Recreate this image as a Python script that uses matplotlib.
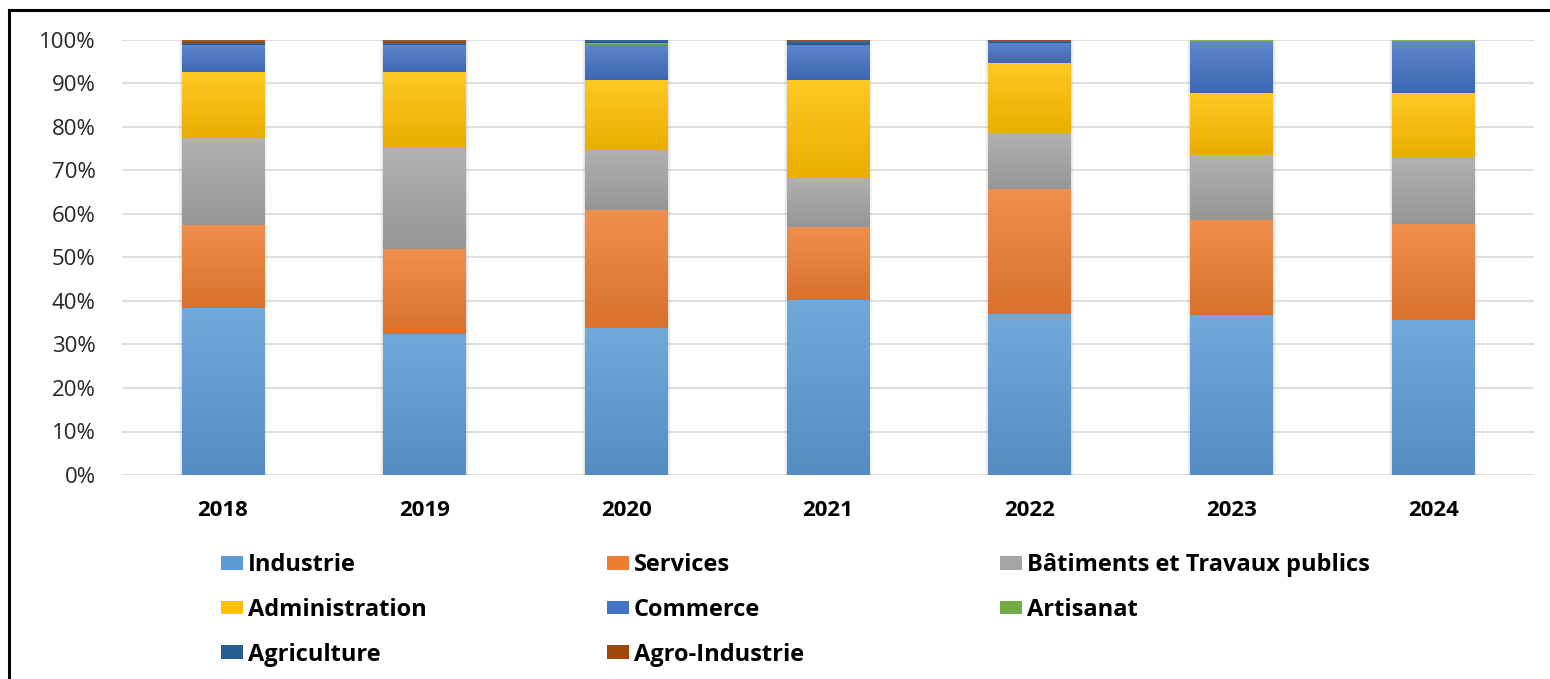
import numpy as np
import matplotlib
matplotlib.use("Agg")
import matplotlib.pyplot as plt
from matplotlib.colors import to_rgb
from matplotlib.lines import Line2D
from matplotlib.patches import Patch
from matplotlib.ticker import PercentFormatter, MultipleLocator

plt.rcParams["font.family"] = ["Open Sans", "DejaVu Sans"]

# Shares of each sector per year (in %)
years = ["2018", "2019", "2020", "2021", "2022", "2023", "2024"]
industrie = [38.3, 32.5, 33.9, 40.3, 37.0, 36.8, 35.7]
services = [19.1, 19.5, 27.1, 16.6, 28.7, 21.9, 22.1]
batiments = [20.0, 23.1, 13.8, 11.4, 12.9, 14.9, 15.3]
administration = [15.3, 17.6, 15.9, 22.4, 16.1, 14.2, 14.7]
commerce = [6.1, 6.2, 8.2, 8.1, 4.7, 11.7, 11.7]
artisanat = [0.0, 0.0, 0.3, 0.0, 0.0, 0.4, 0.4]
agriculture = [0.6, 0.3, 0.8, 1.0, 0.4, 0.0, 0.0]
agro_industrie = [0.6, 0.8, 0.0, 0.2, 0.2, 0.1, 0.1]

series = [
    ("Industrie", industrie, "#5B9BD5"),
    ("Services", services, "#ED7D31"),
    ("Bâtiments et Travaux publics", batiments, "#A5A5A5"),
    ("Administration", administration, "#FFC000"),
    ("Commerce", commerce, "#4472C4"),
    ("Artisanat", artisanat, "#70AD47"),
    ("Agriculture", agriculture, "#255E91"),
    ("Agro-Industrie", agro_industrie, "#9E480E"),
]

W, H, DPI = 1550, 679, 100
fig = plt.figure(figsize=(W / DPI, H / DPI), dpi=DPI)
ax = fig.add_axes([122 / W, 1 - 475 / H, 1412 / W, 435 / H])

x = np.arange(len(years))
bar_w = 0.41


def shade(color, f):
    c = np.array(to_rgb(color))
    if f >= 0:
        return c + (1 - c) * f
    return c * (1 + f)


bottom = np.zeros(len(years))
for name, vals, color in series:
    v = np.array(vals) / 100.0
    bars = ax.bar(x, v, bar_w, bottom=bottom, color=color, label=name,
                  linewidth=0, zorder=2)
    # vertical gradient inside each segment: lighter on top, darker at base
    top_c, bot_c = shade(color, 0.14), shade(color, -0.09)
    grad = np.linspace(0, 1, 64)[:, None, None]
    img = top_c[None, None, :] * (1 - grad) + bot_c[None, None, :] * grad
    for rect in bars:
        if rect.get_height() <= 0:
            continue
        x0, y0 = rect.get_x(), rect.get_y()
        ax.imshow(img, extent=[x0, x0 + rect.get_width(), y0, y0 + rect.get_height()],
                  aspect="auto", origin="upper", zorder=3, interpolation="bilinear")
    bottom += v

# soft halo around each column
tot = bottom
for k, a in [(3, 0.05), (2, 0.07), (1, 0.09)]:
    dx, dy = k / 202.0, k / 435.0
    ax.bar(x, tot + dy, bar_w + 2 * dx, bottom=-dy, color="#808080", alpha=a,
           linewidth=0, zorder=1.5)

ax.set_xlim(-0.5, len(years) - 0.5)
ax.set_ylim(0, 1)
ax.yaxis.set_major_locator(MultipleLocator(0.1))
ax.yaxis.set_major_formatter(PercentFormatter(1.0, decimals=0))
ax.grid(axis="y", color="#D9D9D9", linewidth=1.2, zorder=0)
ax.set_axisbelow(True)
for s in ax.spines.values():
    s.set_visible(False)
ax.set_xticks(x)
ax.set_xticklabels(years, fontsize=16, fontweight="bold", color="#000000")
ax.tick_params(axis="x", length=0, pad=18)
ax.tick_params(axis="y", length=0, pad=19, labelsize=16, labelcolor="#262626")

# legend: three columns, each a separate block
columns = [([0, 3, 6], 221), ([1, 4, 7], 607), ([2, 5], 1000)]
for idx, left in columns:
    handles = [Patch(facecolor=series[i][2], label=series[i][0]) for i in idx]
    leg = fig.legend(handles=handles, ncol=1, loc="upper left",
                     bbox_to_anchor=(left / W, 1 - 553 / H), frameon=False,
                     prop={"family": ["Open Sans", "DejaVu Sans"], "weight": "bold", "size": 17},
                     handlelength=0.93, handleheight=0.52, handletextpad=0.2,
                     labelspacing=0.88, borderpad=0, borderaxespad=0)

# outer frame
fig.add_artist(Line2D([9 / W, 9 / W], [0, 1 - 10 / H], color="black", lw=2.2,
                      transform=fig.transFigure))
fig.add_artist(Line2D([9 / W, 1], [1 - 10 / H, 1 - 10 / H], color="black", lw=2.2,
                      transform=fig.transFigure))

fig.savefig("out.png", dpi=DPI)
